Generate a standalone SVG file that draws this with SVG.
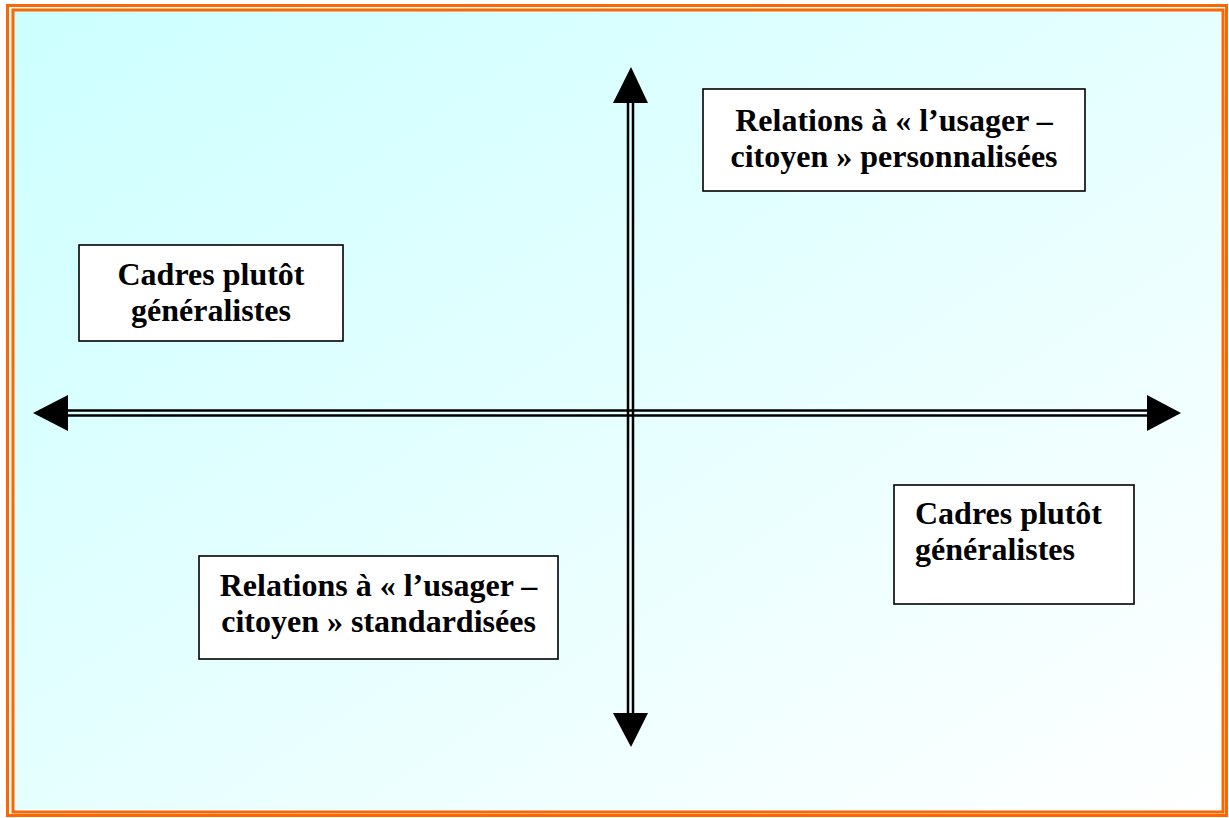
<svg xmlns="http://www.w3.org/2000/svg" width="1229" height="818" viewBox="0 0 1229 818">
  <defs>
    <linearGradient id="bg" x1="0" y1="0" x2="1" y2="1">
      <stop offset="0" stop-color="#CCFFFF"/>
      <stop offset="1" stop-color="#FFFFFF"/>
    </linearGradient>
    <style>
      .frame { fill: none; stroke: #FF6600; stroke-width: 3; }
      .axis { stroke: #000; stroke-width: 2.5; fill: none; }
      .head { fill: #000; }
      .box { fill: #FFFFFF; stroke: #000; stroke-width: 1.6; }
      .lbl { font-family: "Liberation Serif", "Times New Roman", serif; font-weight: bold; font-size: 32px; fill: #000; }
      .c { text-anchor: middle; }
    </style>
  </defs>

  <!-- page background, gradient panel and double frame -->
  <rect x="0" y="0" width="1229" height="818" fill="#FFFFFF"/>
  <rect x="7.5" y="5.5" width="1219" height="810" fill="url(#bg)"/>
  <rect x="7.5" y="5.5" width="1219" height="810" class="frame"/>
  <rect x="13" y="10" width="1210" height="802" class="frame"/>

  <!-- axes -->
  <g id="connectors">
    <line class="axis" x1="66" y1="410.5" x2="1148" y2="410.5"/>
    <line class="axis" x1="66" y1="415.5" x2="1148" y2="415.5"/>
    <line class="axis" x1="628" y1="101" x2="628" y2="715"/>
    <line class="axis" x1="633" y1="101" x2="633" y2="715"/>
    <polygon class="head" points="631,67 648,103 613,103"/>
    <polygon class="head" points="631,747 648,713 613,713"/>
    <polygon class="head" points="33,413 68,395 68,431"/>
    <polygon class="head" points="1181,413 1147,395 1147,431"/>
  </g>

  <g id="top-right">
    <rect class="box" x="703" y="89" width="382" height="102"/>
    <text class="lbl c" x="894" y="131">Relations à « l’usager –</text>
    <text class="lbl c" x="894" y="167">citoyen » personnalisées</text>
  </g>

  <g id="top-left">
    <rect class="box" x="79" y="245" width="264" height="96"/>
    <text class="lbl c" x="211" y="285">Cadres plutôt</text>
    <text class="lbl c" x="211" y="321">généralistes</text>
  </g>

  <g id="bottom-right">
    <rect class="box" x="894" y="485" width="240" height="119"/>
    <text class="lbl" x="915" y="524">Cadres plutôt</text>
    <text class="lbl" x="915" y="560">généralistes</text>
  </g>

  <g id="bottom-left">
    <rect class="box" x="199" y="556" width="359" height="103"/>
    <text class="lbl c" x="378.5" y="596">Relations à « l’usager –</text>
    <text class="lbl c" x="378.5" y="632">citoyen » standardisées</text>
  </g>
</svg>
